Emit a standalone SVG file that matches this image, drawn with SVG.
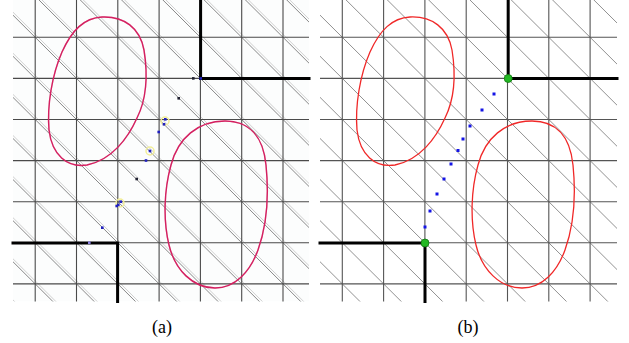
<svg xmlns="http://www.w3.org/2000/svg" xmlns:xlink="http://www.w3.org/1999/xlink" width="629" height="343" viewBox="0 0 629 343">
<style>
.thick{stroke:#000;stroke-width:3;fill:none;stroke-linecap:square}
.blobA{fill:none;stroke:#d42060;stroke-width:1.4}
.blobB{fill:none;stroke:#f02828;stroke-width:1.3}
.dotB{fill:#1414e6}
.dotA{fill:#2020c0}
.dotK{fill:#202030}
.green{fill:#22b822;stroke:#117711;stroke-width:0.8}
</style>
<defs>
<clipPath id="clipA"><rect x="13" y="0" width="296" height="301.5"/></clipPath>
<clipPath id="clipB"><rect x="320" y="0" width="297" height="301.5"/></clipPath>
<path id="grid" vector-effect="non-scaling-stroke" d="M0,-2V9M1,-2V9M2,-2V9M3,-2V9M4,-2V9M5,-2V9M6,-2V9M-2,0H9M-2,1H9M-2,2H9M-2,3H9M-2,4H9M-2,5H9M-2,6H9"/>
<path id="diag" vector-effect="non-scaling-stroke" d="M-8,-1L2,9M-7,-1L3,9M-6,-1L4,9M-5,-1L5,9M-4,-1L6,9M-3,-1L7,9M-2,-1L8,9M-1,-1L9,9M0,-1L10,9M1,-1L11,9M2,-1L12,9M3,-1L13,9M4,-1L14,9M5,-1L15,9M6,-1L16,9M7,-1L17,9"/>
<path id="blobU" d="M410,17 C432,16 448,28 452,50 C456,75 454,100 445,118 C436,138 420,160 395,165 C375,168 360,155 357,130 C355,105 360,75 370,52 C380,30 392,18 410,17 Z"/>
<path id="blobL" d="M532,121 C555,121 570,135 573,165 C576,195 574,225 565,250 C557,272 542,288 522,288 C500,288 482,270 476,245 C470,220 471,190 478,165 C485,138 505,121 532,121 Z"/>
</defs>
<rect width="629" height="343" fill="#fff"/>

<g id="panel-a">
<g clip-path="url(#clipA)">
<rect x="13" y="0" width="296" height="301.5" fill="#fcfdfd"/>
<use xlink:href="#diag" transform="translate(38.2,37.3) scale(41.3,41.1)" fill="none" stroke="#cfcfcf" stroke-width="1"/>
<use xlink:href="#diag" transform="translate(35.2,37.3) scale(41.3,41.1)" fill="none" stroke="#7a7a7a" stroke-width="0.9"/>
<use xlink:href="#grid" transform="translate(35.2,37.3) scale(41.3,41.1)" fill="none" stroke="#4a4a4a" stroke-width="1.1"/>
</g>
<use xlink:href="#blobU" transform="translate(-308,0)" class="blobA" stroke-opacity="0.25" stroke-width="3.5"/>
<use xlink:href="#blobL" transform="translate(-307,0)" class="blobA" stroke-opacity="0.25" stroke-width="3.5"/>
<use xlink:href="#blobU" transform="translate(-308,0)" class="blobA"/>
<use xlink:href="#blobL" transform="translate(-307,0)" class="blobA"/>
<path class="thick" d="M200.6,0V78.4H309"/>
<path class="thick" d="M13,243H117.6V301.5" stroke-linecap="butt"/>
<g fill="none" stroke="#f2ee9a" stroke-width="1.5">
<circle cx="150" cy="151" r="4"/>
<circle cx="165" cy="121" r="4"/>
<circle cx="120" cy="203" r="4"/>
</g>
<rect class="dotK" x="192" y="77.1" width="2.6" height="2.6"/>
<rect class="dotA" x="199.4" y="77.1" width="2.6" height="2.6"/>
<rect class="dotK" x="177.4" y="97" width="2.6" height="2.6"/>
<rect class="dotA" x="164" y="118" width="2.6" height="2.6"/>
<rect class="dotA" x="162.7" y="123" width="2.6" height="2.6"/>
<rect class="dotA" x="157.4" y="130.7" width="2.6" height="2.6"/>
<rect class="dotA" x="148.7" y="149.7" width="2.6" height="2.6"/>
<rect class="dotA" x="144.7" y="159.2" width="2.6" height="2.6"/>
<rect class="dotK" x="135.4" y="177.7" width="2.6" height="2.6"/>
<rect class="dotA" x="119.4" y="200.4" width="2.6" height="2.6"/>
<rect class="dotA" x="117" y="203.7" width="2.6" height="2.6"/>
<rect class="dotA" x="115.4" y="204.7" width="2.6" height="2.6"/>
<rect class="dotA" x="101" y="226.4" width="2.6" height="2.6"/>
<rect x="88" y="241.4" width="2.6" height="2.6" fill="#8a80e0"/>
<text x="162" y="333" font-family="'Liberation Serif', 'Times New Roman', serif" font-size="18" text-anchor="middle" fill="#000">(a)</text>
</g>

<g id="panel-b">
<g clip-path="url(#clipB)">
<use xlink:href="#diag" transform="translate(342.3,37.3) scale(41.3,41.1)" fill="none" stroke="#858585" stroke-width="0.9"/>
<use xlink:href="#grid" transform="translate(342.3,37.3) scale(41.3,41.1)" fill="none" stroke="#555" stroke-width="1.1"/>
</g>
<use xlink:href="#blobU" class="blobB"/>
<use xlink:href="#blobL" class="blobB"/>
<path class="thick" d="M508.2,0V78.5H617" stroke-linecap="butt"/>
<path class="thick" d="M320,243H425V301.5" stroke-linecap="butt"/>
<rect class="dotB" x="492.5" y="92.5" width="3" height="3"/>
<rect class="dotB" x="480.5" y="108.5" width="3" height="3"/>
<rect class="dotB" x="468.5" y="124.5" width="3" height="3"/>
<rect class="dotB" x="461.5" y="137.5" width="3" height="3"/>
<rect class="dotB" x="456.5" y="149" width="3" height="3"/>
<rect class="dotB" x="449.5" y="162.5" width="3" height="3"/>
<rect class="dotB" x="442.5" y="177.5" width="3" height="3"/>
<rect class="dotB" x="435.5" y="192.5" width="3" height="3"/>
<rect class="dotB" x="428.5" y="209.5" width="3" height="3"/>
<rect class="dotB" x="423.5" y="225.5" width="3" height="3"/>
<circle class="green" cx="508.2" cy="78.5" r="4"/>
<circle class="green" cx="425" cy="243" r="4"/>
<text x="468" y="333" font-family="'Liberation Serif', 'Times New Roman', serif" font-size="18" text-anchor="middle" fill="#000">(b)</text>
</g>
</svg>
